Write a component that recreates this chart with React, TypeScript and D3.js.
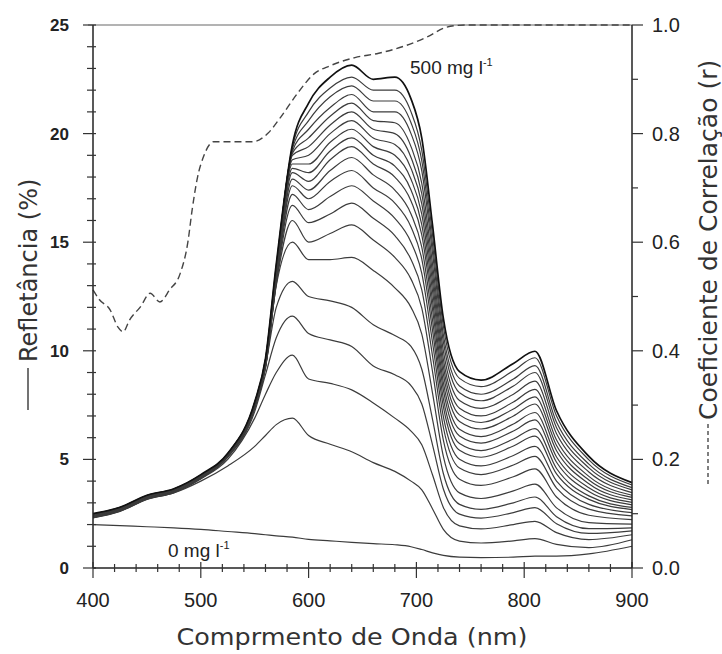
import React from 'react';
import * as d3 from 'd3';

// reflectance spectra (%), one row per concentration, sampled at WAVELENGTHS
const WAVELENGTHS = [400, 425, 450, 475, 500, 525, 550, 560, 570, 585, 600, 620, 640, 660, 680, 695, 705, 715, 725, 740, 760, 790, 810, 830, 860, 900];

const CONCENTRATIONS = [0, 25, 50, 75, 100, 125, 150, 175, 200, 225, 250, 275, 300, 325, 350, 375, 400, 425, 450, 475, 500];

const REFLECTANCE = [
    [2.0, 1.95, 1.9, 1.85, 1.78, 1.68, 1.58, 1.53, 1.48, 1.42, 1.32, 1.25, 1.18, 1.12, 1.07, 0.98, 0.85, 0.7, 0.58, 0.5, 0.48, 0.5, 0.55, 0.55, 0.65, 1.0],
    [2.31, 2.61, 3.16, 3.46, 4.0, 4.7, 5.6, 6.1, 6.6, 6.9, 6.1, 5.7, 5.35, 4.85, 4.45, 4.0, 3.6, 2.72, 1.78, 1.24, 1.15, 1.25, 1.35, 1.09, 0.94, 1.3],
    [2.32, 2.62, 3.17, 3.47, 4.1, 5.0, 6.9, 8.0, 9.0, 9.8, 8.7, 8.5, 8.2, 7.6, 6.9, 6.3, 5.67, 4.28, 2.79, 1.94, 1.8, 2.0, 2.15, 1.63, 1.31, 1.53],
    [2.33, 2.63, 3.18, 3.48, 4.12, 5.1, 7.2, 8.9, 10.6, 11.6, 10.8, 10.5, 10.2, 9.3, 8.9, 8.4, 7.55, 5.66, 3.64, 2.48, 2.3, 2.55, 2.78, 2.04, 1.59, 1.71],
    [2.34, 2.64, 3.19, 3.49, 4.13, 5.12, 7.4, 9.3, 12.0, 13.2, 12.5, 12.3, 12.0, 11.2, 10.7, 10.2, 9.15, 6.83, 4.35, 2.93, 2.7, 3.0, 3.27, 2.36, 1.81, 1.85],
    [2.35, 2.65, 3.2, 3.5, 4.14, 5.13, 7.35, 9.2, 13.0, 15.0, 14.2, 14.2, 14.3, 13.7, 12.9, 12.0, 10.77, 8.04, 5.14, 3.46, 3.2, 3.55, 3.86, 2.77, 2.09, 2.02],
    [2.36, 2.66, 3.21, 3.51, 4.15, 5.14, 7.37, 9.23, 13.07, 16.0, 15.0, 15.4, 15.8, 15.1, 14.3, 13.3, 11.97, 9.03, 5.89, 4.09, 3.8, 4.2, 4.56, 3.27, 2.43, 2.23],
    [2.37, 2.67, 3.22, 3.52, 4.16, 5.15, 7.39, 9.26, 13.13, 16.7, 15.9, 16.3, 16.8, 16.1, 15.3, 14.2, 12.81, 9.75, 6.48, 4.6, 4.3, 4.74, 5.14, 3.68, 2.71, 2.4],
    [2.38, 2.68, 3.23, 3.53, 4.17, 5.16, 7.41, 9.29, 13.2, 17.2, 16.5, 17.1, 17.6, 16.9, 16.1, 15.0, 13.56, 10.37, 6.97, 5.01, 4.7, 5.18, 5.6, 4.0, 2.93, 2.55],
    [2.39, 2.69, 3.24, 3.54, 4.18, 5.17, 7.43, 9.32, 13.27, 17.6, 17.0, 17.8, 18.3, 17.5, 16.8, 15.7, 14.22, 10.93, 7.43, 5.42, 5.1, 5.62, 6.07, 4.33, 3.16, 2.69],
    [2.4, 2.7, 3.25, 3.55, 4.19, 5.18, 7.45, 9.35, 13.33, 17.9, 17.4, 18.3, 18.9, 18.1, 17.4, 16.3, 14.77, 11.4, 7.8, 5.73, 5.4, 5.94, 6.42, 4.58, 3.32, 2.79],
    [2.41, 2.71, 3.26, 3.56, 4.2, 5.19, 7.47, 9.38, 13.4, 18.2, 17.8, 18.8, 19.4, 18.6, 18.0, 16.9, 15.34, 11.88, 8.2, 6.08, 5.75, 6.31, 6.82, 4.87, 3.52, 2.91],
    [2.42, 2.72, 3.27, 3.57, 4.21, 5.2, 7.49, 9.41, 13.47, 18.4, 18.2, 19.2, 19.8, 19.0, 18.5, 17.4, 15.81, 12.29, 8.55, 6.39, 6.05, 6.63, 7.16, 5.11, 3.69, 3.02],
    [2.43, 2.73, 3.28, 3.58, 4.22, 5.21, 7.51, 9.44, 13.53, 18.6, 18.6, 19.6, 20.2, 19.4, 19.0, 17.9, 16.29, 12.73, 8.93, 6.75, 6.4, 7.0, 7.55, 5.4, 3.88, 3.14],
    [2.44, 2.74, 3.29, 3.59, 4.23, 5.22, 7.53, 9.47, 13.6, 18.8, 19.0, 20.0, 20.6, 19.8, 19.5, 18.4, 16.76, 13.14, 9.27, 7.05, 6.7, 7.32, 7.88, 5.64, 4.05, 3.25],
    [2.45, 2.75, 3.3, 3.6, 4.24, 5.23, 7.55, 9.5, 13.67, 19.0, 19.4, 20.4, 21.0, 20.2, 20.0, 18.9, 17.23, 13.55, 9.62, 7.36, 7.0, 7.64, 8.22, 5.89, 4.22, 3.35],
    [2.46, 2.76, 3.31, 3.61, 4.25, 5.24, 7.57, 9.53, 13.73, 19.1, 19.8, 20.8, 21.4, 20.6, 20.5, 19.4, 17.71, 13.98, 10.0, 7.71, 7.35, 8.0, 8.6, 6.18, 4.42, 3.47],
    [2.47, 2.77, 3.32, 3.62, 4.26, 5.25, 7.59, 9.56, 13.8, 19.2, 20.2, 21.2, 21.8, 21.0, 21.0, 20.0, 18.28, 14.47, 10.41, 8.07, 7.7, 8.38, 9.0, 6.46, 4.61, 3.6],
    [2.48, 2.78, 3.33, 3.63, 4.27, 5.26, 7.61, 9.59, 13.87, 19.3, 20.6, 21.7, 22.2, 21.5, 21.5, 20.5, 18.75, 14.88, 10.75, 8.38, 8.0, 8.7, 9.32, 6.71, 4.78, 3.7],
    [2.49, 2.79, 3.34, 3.64, 4.28, 5.27, 7.63, 9.62, 13.93, 19.4, 21.0, 22.1, 22.6, 22.0, 22.0, 21.0, 19.23, 15.31, 11.13, 8.73, 8.35, 9.08, 9.68, 7.0, 4.98, 3.82],
    [2.5, 2.8, 3.35, 3.65, 4.3, 5.28, 7.65, 9.65, 14.0, 19.5, 21.4, 22.6, 23.15, 22.5, 22.6, 21.6, 19.79, 15.77, 11.5, 9.04, 8.65, 9.42, 9.98, 7.24, 5.14, 3.93]
];

// correlation coefficient (dashed curve, right axis)
const CORR_WAVELENGTHS = [400, 406, 416, 423, 428, 434, 444, 453, 462, 471, 481, 488, 492, 497, 503, 512, 526, 548, 562, 574, 590, 605, 620, 643, 665, 690, 710, 728, 745, 900];
const CORR_VALUES = [0.512, 0.494, 0.475, 0.444, 0.435, 0.457, 0.481, 0.506, 0.49, 0.512, 0.543, 0.6, 0.66, 0.72, 0.76, 0.785, 0.785, 0.785, 0.8, 0.83, 0.875, 0.91, 0.925, 0.94, 0.948, 0.962, 0.978, 0.996, 1.0, 1.0];

const X_TICKS = [400, 500, 600, 700, 800, 900];
const Y_TICKS = [0, 5, 10, 15, 20, 25];
const R_TICKS = [0, 0.2, 0.4, 0.6, 0.8, 1.0];

export default function App() {
    const width = 722, height = 654;
    const x = d3.scaleLinear().domain([400, 900]).range([93, 632]);
    const y = d3.scaleLinear().domain([0, 25]).range([568, 25]);
    const r = d3.scaleLinear().domain([0, 1]).range([568, 25]);

    const spectrum = d3.line<number>()
        .x((_, i) => x(WAVELENGTHS[i]))
        .y(d => y(d))
        .curve(d3.curveMonotoneX);

    const corrLine = d3.line<number>()
        .x((_, i) => x(CORR_WAVELENGTHS[i]))
        .y(d => r(d))
        .curve(d3.curveMonotoneX);

    const labelFont = "'Liberation Sans', Arial, sans-serif";
    const titleFont = "'DejaVu Sans', Verdana, sans-serif";

    return (
        <div style={{position: 'absolute', left: 0, top: 0}}>
            <svg width={width} height={height} style={{display: 'block', background: '#fff'}}>
                {/* top frame */}
                <line x1={88} x2={632} y1={25} y2={25} stroke="#9a9a9a" strokeWidth={1.6}/>

                {/* spectra */}
                {REFLECTANCE.map((row, i) => (
                    <path key={CONCENTRATIONS[i]}
                          d={spectrum(row) || ''}
                          fill="none"
                          stroke={i === REFLECTANCE.length - 1 ? '#111' : '#3c3c3c'}
                          strokeWidth={i === REFLECTANCE.length - 1 ? 1.7 : 1.2}/>
                ))}

                {/* correlation */}
                <path d={corrLine(CORR_VALUES) || ''} fill="none" stroke="#444" strokeWidth={1.4} strokeDasharray="7,4"/>

                {/* left axis */}
                <line x1={93} x2={93} y1={25} y2={568} stroke="#222" strokeWidth={1.5}/>
                {d3.range(0, 26).map(v => (
                    <line key={'ym' + v} x1={v % 5 === 0 ? 83 : 87} x2={96} y1={y(v)} y2={y(v)} stroke="#333" strokeWidth={1.2}/>
                ))}
                {Y_TICKS.map(v => (
                    <text key={'yl' + v} x={69} y={y(v) + 6} textAnchor="end" fontFamily={labelFont}
                          fontWeight="bold" fontSize={17} fill="#222">{v}</text>
                ))}

                {/* bottom axis */}
                <line x1={93} x2={632} y1={568} y2={568} stroke="#222" strokeWidth={1.5}/>
                {d3.range(400, 901, 20).map(v => (
                    <line key={'xm' + v} x1={x(v)} x2={x(v)} y1={v % 100 === 0 ? 562 : 564} y2={v % 100 === 0 ? 578 : 572}
                          stroke="#333" strokeWidth={1.2}/>
                ))}
                {X_TICKS.map(v => (
                    <text key={'xl' + v} x={x(v)} y={607} textAnchor="middle" fontFamily={labelFont}
                          fontSize={20} fill="#222">{v}</text>
                ))}

                {/* right axis */}
                <line x1={632} x2={632} y1={25} y2={568} stroke="#222" strokeWidth={1.5}/>
                {d3.range(0, 11).map(v => (
                    <line key={'rm' + v} x1={632} x2={v % 2 === 0 ? 643 : 638} y1={r(v / 10)} y2={r(v / 10)}
                          stroke="#333" strokeWidth={1.2}/>
                ))}
                {R_TICKS.map(v => (
                    <text key={'rl' + v} x={652} y={r(v) + 7} fontFamily={labelFont}
                          fontSize={20} fill="#222">{v.toFixed(1)}</text>
                ))}

                {/* annotations */}
                <text x={410} y={74} fontFamily={labelFont} fontSize={19} fill="#222">
                    500 mg l<tspan fontSize={11} dy={-8}>-1</tspan>
                </text>
                <text x={168} y={557} fontFamily={labelFont} fontSize={19} fill="#222">
                    0 mg l<tspan fontSize={11} dy={-8}>-1</tspan>
                </text>

                {/* axis titles */}
                <text x={352} y={645} textAnchor="middle" fontFamily={titleFont} fontSize={23}
                      fill="#333" textLength={351} lengthAdjust="spacingAndGlyphs">Comprmento de Onda (nm)</text>

                <line x1={28} x2={28} y1={368} y2={410} stroke="#444" strokeWidth={1.5}/>
                <text transform="translate(37,362) rotate(-90)" fontFamily={titleFont} fontSize={24} fill="#333">Refletância (%)</text>

                <line x1={708} x2={708} y1={424} y2={484} stroke="#555" strokeWidth={1.5} strokeDasharray="4,3"/>
                <text transform="translate(717,420) rotate(-90)" fontFamily={titleFont} fontSize={25} fill="#333">Coeficiente de Correlação (r)</text>
            </svg>
        </div>
    );
}
